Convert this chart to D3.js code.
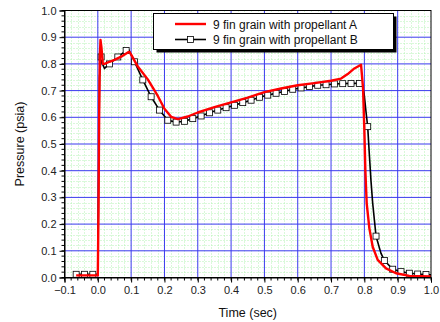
<!DOCTYPE html>
<html><head><meta charset="utf-8">
<script src="https://cdn.jsdelivr.net/npm/d3@7"></script>
<style>body{margin:0;background:#fff;}svg{display:block;}</style>
</head><body>
<svg id="c" width="440" height="322"></svg>
<script>
const seriesNames = ["9 fin grain with propellant A", "9 fin grain with propellant B"];
const xTicks = [-0.1,0.0,0.1,0.2,0.3,0.4,0.5,0.6,0.7,0.8,0.9,1.0];
const yTicks = [0.0,0.1,0.2,0.3,0.4,0.5,0.6,0.7,0.8,0.9,1.0];

const timeA = [-0.065,0.0,0.002,0.004,0.006,0.008,0.011,0.015,0.02,0.035,0.05,0.07,0.09,0.095,0.1,0.12,0.15,0.18,0.2,0.22,0.24,0.27,0.3,0.35,0.4,0.45,0.5,0.55,0.6,0.65,0.7,0.73,0.75,0.77,0.79,0.796,0.8,0.803,0.807,0.815,0.825,0.84,0.865,0.895,0.935,1.0];
const pressA = [0.008,0.008,0.25,0.6,0.82,0.89,0.86,0.80,0.80,0.808,0.815,0.827,0.843,0.845,0.835,0.79,0.742,0.68,0.632,0.602,0.593,0.603,0.618,0.638,0.656,0.674,0.694,0.708,0.72,0.728,0.737,0.745,0.762,0.783,0.797,0.71,0.55,0.40,0.278,0.184,0.115,0.066,0.034,0.016,0.006,0.004];

const timeB = [-0.065,-0.04,-0.015,0.0,0.002,0.005,0.01,0.014,0.02,0.035,0.06,0.085,0.092,0.11,0.135,0.16,0.185,0.21,0.235,0.26,0.285,0.31,0.335,0.36,0.385,0.41,0.435,0.46,0.485,0.51,0.535,0.56,0.585,0.61,0.635,0.66,0.685,0.71,0.735,0.76,0.785,0.795,0.8,0.805,0.81,0.815,0.82,0.825,0.835,0.85,0.86,0.885,0.91,0.935,0.96,0.985,1.0];
const pressB = [0.012,0.012,0.012,0.012,0.3,0.75,0.826,0.80,0.783,0.80,0.826,0.85,0.855,0.808,0.74,0.677,0.627,0.589,0.582,0.585,0.595,0.605,0.617,0.627,0.636,0.645,0.655,0.664,0.675,0.683,0.69,0.697,0.705,0.71,0.715,0.72,0.722,0.725,0.726,0.727,0.727,0.715,0.68,0.62,0.565,0.46,0.36,0.278,0.155,0.09,0.064,0.031,0.022,0.016,0.013,0.011,0.01];
const markB = [1,1,1,0,0,0,1,0,0,1,1,1,0,1,1,1,1,1,1,1,1,1,1,1,1,1,1,1,1,1,1,1,1,1,1,1,1,1,1,1,1,0,0,0,1,0,0,0,1,0,1,1,1,1,1,1,0];

const svg = d3.select("#c");
const L = 64.5, R = 431, T = 10.5, B = 277.5;
const x = d3.scaleLinear().domain([-0.1, 1.0]).range([L, R]);
const y = d3.scaleLinear().domain([0, 1.0]).range([B, T]);
const font = "'Liberation Sans', Arial, sans-serif";

// minor grid (green dotted)
const g = svg.append("g");
const minorX = d3.range(-0.1, 1.0001, 0.02).map(v => +v.toFixed(3)).filter(v => Math.abs(v*10 - Math.round(v*10)) > 1e-6);
const minorY = d3.range(0, 1.0001, 0.02).map(v => +v.toFixed(3)).filter(v => Math.abs(v*10 - Math.round(v*10)) > 1e-6);
g.selectAll(".mx").data(minorX).enter().append("line")
  .attr("x1", d => Math.round(x(d))+0.5).attr("x2", d => Math.round(x(d))+0.5).attr("y1", T).attr("y2", B)
  .attr("stroke", "#b4f2b4").attr("stroke-width", 1).attr("stroke-dasharray", "1,2");
g.selectAll(".my").data(minorY).enter().append("line")
  .attr("y1", d => Math.round(y(d))+0.5).attr("y2", d => Math.round(y(d))+0.5).attr("x1", L).attr("x2", R)
  .attr("stroke", "#b4f2b4").attr("stroke-width", 1).attr("stroke-dasharray", "1,2");
// major grid (blue)
g.selectAll(".gx").data(xTicks.slice(1, -1)).enter().append("line")
  .attr("x1", d => x(d)).attr("x2", d => x(d)).attr("y1", T).attr("y2", B)
  .attr("stroke", "#3a3aee").attr("stroke-width", 1);
g.selectAll(".gy").data(yTicks.slice(1, -1)).enter().append("line")
  .attr("y1", d => y(d)).attr("y2", d => y(d)).attr("x1", L).attr("x2", R)
  .attr("stroke", "#3a3aee").attr("stroke-width", 1);

// series
const line = d3.line().x(d => x(d[0])).y(d => y(d[1]));
const dataA = timeA.map((t, i) => [t, pressA[i]]);
const dataB = timeB.map((t, i) => [t, pressB[i]]);
svg.append("path").attr("d", line(dataB)).attr("fill", "none").attr("stroke", "#000").attr("stroke-width", 1.6);
svg.selectAll(".mk").data(dataB.filter((d, i) => markB[i])).enter().append("rect")
  .attr("x", d => x(d[0]) - 3).attr("y", d => y(d[1]) - 3).attr("width", 6).attr("height", 6)
  .attr("fill", "#fff").attr("stroke", "#000").attr("stroke-width", 0.8);
svg.append("path").attr("d", line(dataA)).attr("fill", "none").attr("stroke", "#ff0000").attr("stroke-width", 2.4).attr("stroke-linejoin", "round");

// frame
svg.append("rect").attr("x", L).attr("y", T).attr("width", R - L).attr("height", B - T)
  .attr("fill", "none").attr("stroke", "#000").attr("stroke-width", 1);

// axes
const xAxis = d3.axisBottom(x).tickValues(xTicks).tickFormat(d3.format(".1f")).tickSize(5).tickPadding(4);
const xa = svg.append("g").attr("transform", `translate(0,${B})`).call(xAxis);
const yAxis = d3.axisLeft(y).tickValues(yTicks).tickFormat(d3.format(".1f")).tickSize(5).tickPadding(3);
const ya = svg.append("g").attr("transform", `translate(${L},0)`).call(yAxis);
[xa, ya].forEach(a => {
  a.select(".domain").attr("stroke", "#000");
  a.selectAll("text").attr("font-family", font).attr("font-size", 11).attr("fill", "#222");
});
const xMin = d3.range(-0.1, 1.0001, 0.02).map(v => +v.toFixed(3));
svg.append("g").selectAll("line").data(xMin).enter().append("line")
  .attr("x1", d => x(d)).attr("x2", d => x(d)).attr("y1", B).attr("y2", B + 3).attr("stroke", "#000");
const yMin = d3.range(0, 1.0001, 0.02).map(v => +v.toFixed(3));
svg.append("g").selectAll("line").data(yMin).enter().append("line")
  .attr("y1", d => y(d)).attr("y2", d => y(d)).attr("x1", L).attr("x2", L - 3).attr("stroke", "#000");

// axis titles
svg.append("text").attr("x", (L + R) / 2).attr("y", 317).attr("text-anchor", "middle")
  .attr("font-family", font).attr("font-size", 12.5).attr("fill", "#111").text("Time (sec)");
svg.append("text").attr("transform", `translate(24,${(T + B) / 2}) rotate(-90)`).attr("text-anchor", "middle")
  .attr("font-family", font).attr("font-size", 12.5).attr("fill", "#111").text("Pressure (psia)");

// legend
const lg = svg.append("g");
lg.append("rect").attr("x", 156.5).attr("y", 16.5).attr("width", 240).attr("height", 36).attr("fill", "#000");
lg.append("rect").attr("x", 153.5).attr("y", 13.5).attr("width", 240).attr("height", 36).attr("fill", "#fff").attr("stroke", "#000");
lg.append("line").attr("x1", 175).attr("x2", 206).attr("y1", 24).attr("y2", 24).attr("stroke", "#ff0000").attr("stroke-width", 2.4);
lg.append("line").attr("x1", 175).attr("x2", 206).attr("y1", 39.5).attr("y2", 39.5).attr("stroke", "#000").attr("stroke-width", 1.6);
lg.append("rect").attr("x", 187.5).attr("y", 36.5).attr("width", 6).attr("height", 6).attr("fill", "#fff").attr("stroke", "#000").attr("stroke-width", 0.8);
lg.selectAll("text.lt").data(seriesNames).enter().append("text")
  .attr("x", 213).attr("y", (d, i) => 28.5 + i * 15.5)
  .attr("font-family", font).attr("font-size", 12).attr("fill", "#111").text(d => d);
</script>
</body></html>
